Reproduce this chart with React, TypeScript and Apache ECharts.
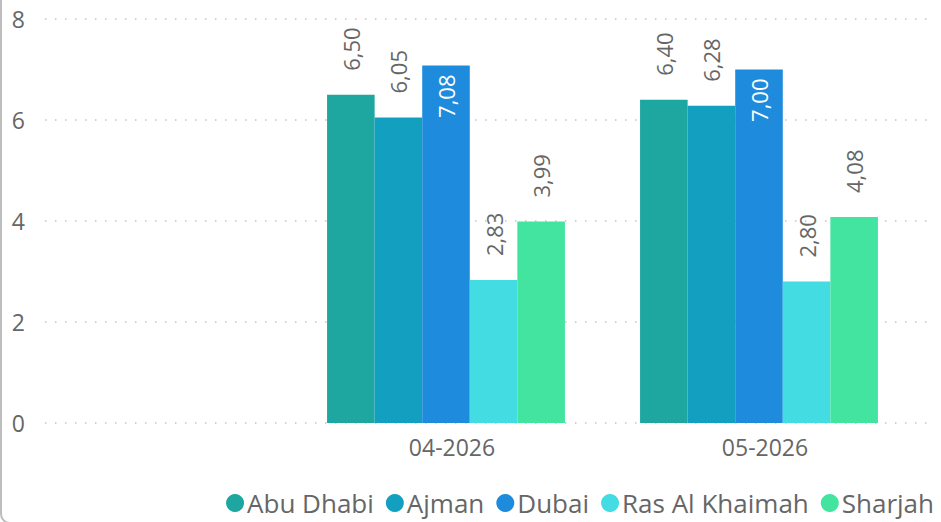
import React, { useEffect, useRef } from "react";
import * as echarts from "echarts";

const categories = ["04-2026", "05-2026"];
const seriesNames = ["Abu Dhabi", "Ajman", "Dubai", "Ras Al Khaimah", "Sharjah"];
const abuDhabi = [6.5, 6.4];
const ajman = [6.05, 6.28];
const dubai = [7.08, 7.0];
const rasAlKhaimah = [2.83, 2.8];
const sharjah = [3.99, 4.08];
const yTicks = [0, 2, 4, 6, 8];

const seriesValues = [abuDhabi, ajman, dubai, rasAlKhaimah, sharjah];
const colors = ["#1DA7A0", "#13A0C0", "#1E8BDC", "#43DCE2", "#43E49F"];
const FONT = "'Open Sans', 'Noto Sans', sans-serif";
const INSIDE_THRESHOLD = 6.9;

const fmt = (v: number) => v.toFixed(2).replace(".", ",");

export default function App() {
  const ref = useRef<HTMLDivElement>(null);
  useEffect(() => {
    document.body.style.margin = "0";
    if (!ref.current) return;
    const chart = echarts.init(ref.current, undefined, { renderer: "svg" });
    const outsideLabel = {
      show: true,
      position: "top",
      rotate: 90,
      align: "left",
      verticalAlign: "middle",
      distance: 24,
      color: "#666666",
      fontSize: 22,
      fontFamily: FONT,
      formatter: (p: any) => fmt(p.value),
    };
    const insideLabel = {
      show: true,
      position: "insideTop",
      rotate: 90,
      align: "right",
      verticalAlign: "middle",
      distance: 9,
      color: "#ffffff",
      fontSize: 22,
      fontFamily: FONT,
      formatter: (p: any) => fmt(p.value),
    };
    const series = seriesNames.map((name, i) => ({
      name,
      type: "bar",
      xAxisIndex: 1,
      yAxisIndex: 1,
      barGap: "0%",
      barCategoryGap: "24%",
      itemStyle: { color: colors[i] },
      label: outsideLabel,
      data: seriesValues[i].map((v) =>
        v > INSIDE_THRESHOLD ? { value: v, label: insideLabel } : { value: v }
      ),
    }));
    chart.setOption({
      animation: false,
      textStyle: { fontFamily: FONT },
      grid: [
        { left: 45, right: 9, top: 19, bottom: 99 },
        { left: 289.5, right: 25.5, top: 19, bottom: 99 },
      ],
      xAxis: [
        { type: "value", gridIndex: 0, show: false, min: 0, max: 1 },
        {
          type: "category",
          gridIndex: 1,
          data: categories,
          axisLine: { show: false },
          axisTick: { show: false },
          axisLabel: {
            color: "#666666",
            fontSize: 23,
            fontFamily: FONT,
            margin: 12,
            padding: [0, 0, 0, 12],
          },
        },
      ],
      yAxis: [
        {
          type: "value",
          gridIndex: 0,
          min: yTicks[0],
          max: yTicks[yTicks.length - 1],
          interval: 2,
          axisLine: { show: false },
          axisTick: { show: false },
          axisLabel: {
            color: "#666666",
            fontSize: 23,
            fontFamily: FONT,
            margin: 20,
          },
          splitLine: {
            show: true,
            lineStyle: { color: "#c4c4c4", width: 1.5, type: [1.5, 8.5] },
          },
        },
        {
          type: "value",
          gridIndex: 1,
          min: yTicks[0],
          max: yTicks[yTicks.length - 1],
          interval: 2,
          show: false,
          splitLine: { show: false },
        },
      ],
      legend: {
        data: seriesNames,
        right: 2,
        bottom: 1,
        icon: "circle",
        itemWidth: 18,
        itemHeight: 18,
        itemGap: 12,
        textStyle: { color: "#666666", fontSize: 26, fontFamily: FONT, padding: [0, 0, 0, -2] },
      },
      series,
    });
    return () => chart.dispose();
  }, []);
  return (
    <div style={{ position: "relative", width: 941, height: 522, overflow: "hidden", background: "#fff" }}>
      <div
        style={{
          position: "absolute",
          left: 0,
          top: -30,
          width: 990,
          height: 554,
          boxSizing: "border-box",
          border: "2px solid #bdbdbd",
          borderRadius: 10,
        }}
      />
      <div ref={ref} style={{ position: "absolute", left: 0, top: 0, width: 941, height: 522 }} />
    </div>
  );
}
